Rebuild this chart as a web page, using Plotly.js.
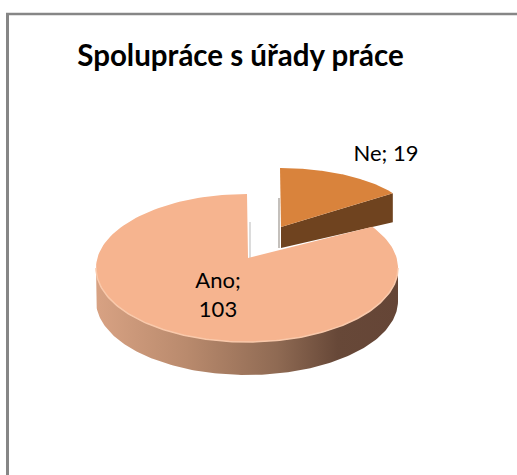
<!DOCTYPE html>
<html>
<head>
<meta charset="utf-8">
<script src="https://cdn.plot.ly/plotly-3.0.1.min.js"></script>
<style>html,body{margin:0;padding:0;background:#fff}#chart{width:517px;height:475px}</style>
</head>
<body>
<div id="chart"></div>
<script>
const categories = ['Ano', 'Ne'];
const values = [103, 19];
const chartTitle = 'Spolupráce s úřady práce';

const total = values[0] + values[1];
const neSweep = values[1] / total * 2 * Math.PI;

// Tilted-pie projection: angle measured clockwise from the top
function rim(e, t, dy) {
  return [e.cx + e.rx * Math.sin(t), e.cy - e.ry * Math.cos(t) + (dy || 0)];
}
function arc(e, a, b, dy) {
  const n = 160, xs = [], ys = [];
  for (let i = 0; i <= n; i++) {
    const p = rim(e, a + (b - a) * i / n, dy);
    xs.push(p[0]); ys.push(p[1]);
  }
  return [xs, ys];
}
const anoE = {cx: 247, cy: 268, rx: 151, ry: 74, ax: 248, ay: 258, depth: 33};
const neE = {cx: 280, cy: 225, rx: 136, ry: 57, ax: 281, ay: 227, depth: 29};

// Ano: wall
const wTop = arc(anoE, Math.PI / 2, 3 * Math.PI / 2, 0);
const wBot = arc(anoE, 3 * Math.PI / 2, Math.PI / 2, anoE.depth);
const wall = {
  x: wTop[0].concat(wBot[0]), y: wTop[1].concat(wBot[1]),
  mode: 'lines', fill: 'toself', line: {width: 0},
  fillgradient: {type: 'horizontal', colorscale: [[0, '#d8a283'], [0.3, '#b98a6d'], [0.6, '#8f6a53'], [0.8, '#674838'], [1, '#654536']]}
};
// Ano: top face
const anoArc = arc(anoE, neSweep, 2 * Math.PI, 0);
const anoTop = {
  x: [anoE.ax].concat(anoArc[0], [anoE.ax]), y: [anoE.ay].concat(anoArc[1], [anoE.ay]),
  mode: 'lines', fill: 'toself', fillcolor: '#f6b48f', line: {width: 0}
};
// Ano: soft rim highlight along the front edge
const rimArc = arc(anoE, Math.PI / 2, 3 * Math.PI / 2, 0);
const anoRim = {x: rimArc[0], y: rimArc[1], mode: 'lines', line: {color: '#f9c9ab', width: 1.5}};
// Ano: inner cut shading
const anoCut = rim(anoE, 0, 0);
const cutShade = {x: [anoE.ax + 2, anoCut[0] + 3], y: [anoE.ay, anoCut[1] + 28], mode: 'lines', line: {color: '#dcdcdc', width: 2}};

// Ne: front wall
const neCorner = rim(neE, neSweep, 0);
const neWall = {
  x: [neE.ax, neCorner[0], neCorner[0], neE.ax, neE.ax],
  y: [neE.ay, neCorner[1], neCorner[1] + neE.depth, neE.ay + 21, neE.ay],
  mode: 'lines', fill: 'toself', fillcolor: '#6f431f', line: {width: 0}
};
// Ne: top face
const neArc = arc(neE, 0, neSweep, 0);
const neTop = {
  x: [neE.ax].concat(neArc[0], [neE.ax]), y: [neE.ay].concat(neArc[1], [neE.ay]),
  mode: 'lines', fill: 'toself', fillcolor: '#d9833c', line: {width: 0}
};
const neShade = {x: [neE.ax - 2, neE.ax - 2], y: [neE.cy - 27, neE.ay + 21], mode: 'lines', line: {color: '#c4c0bc', width: 2}};

// Labels
const labels = {
  x: [218, 386], y: [297, 155], mode: 'text',
  text: [categories[0] + ';<br>' + values[0], categories[1] + '; ' + values[1]],
  textposition: 'middle center',
  textfont: {family: 'Lato, sans-serif', size: 22, color: '#000'}
};

const layout = {
  width: 517, height: 475, showlegend: false, hovermode: false,
  margin: {l: 0, r: 0, t: 0, b: 0},
  paper_bgcolor: '#fff', plot_bgcolor: '#fff',
  xaxis: {range: [0, 517], visible: false, fixedrange: true},
  yaxis: {range: [475, 0], visible: false, fixedrange: true},
  title: {
    text: '<b>' + chartTitle + '</b>', font: {family: 'Lato, sans-serif', size: 29.5, color: '#000'},
    x: 240.5 / 517, xanchor: 'center', y: 1 - 56 / 475, yanchor: 'middle', xref: 'container', yref: 'container'
  },
  shapes: [
    {type: 'line', xref: 'x', yref: 'y', x0: 7.5, x1: 7.5, y0: 13, y1: 475, line: {color: '#868686', width: 3}},
    {type: 'line', xref: 'x', yref: 'y', x0: 6, x1: 517, y0: 14, y1: 14, line: {color: '#868686', width: 2.5}}
  ]
};

Plotly.newPlot('chart', [neShade, neWall, neTop, wall, cutShade, anoTop, anoRim, labels], layout, {staticPlot: true, displayModeBar: false});
</script>
</body>
</html>
